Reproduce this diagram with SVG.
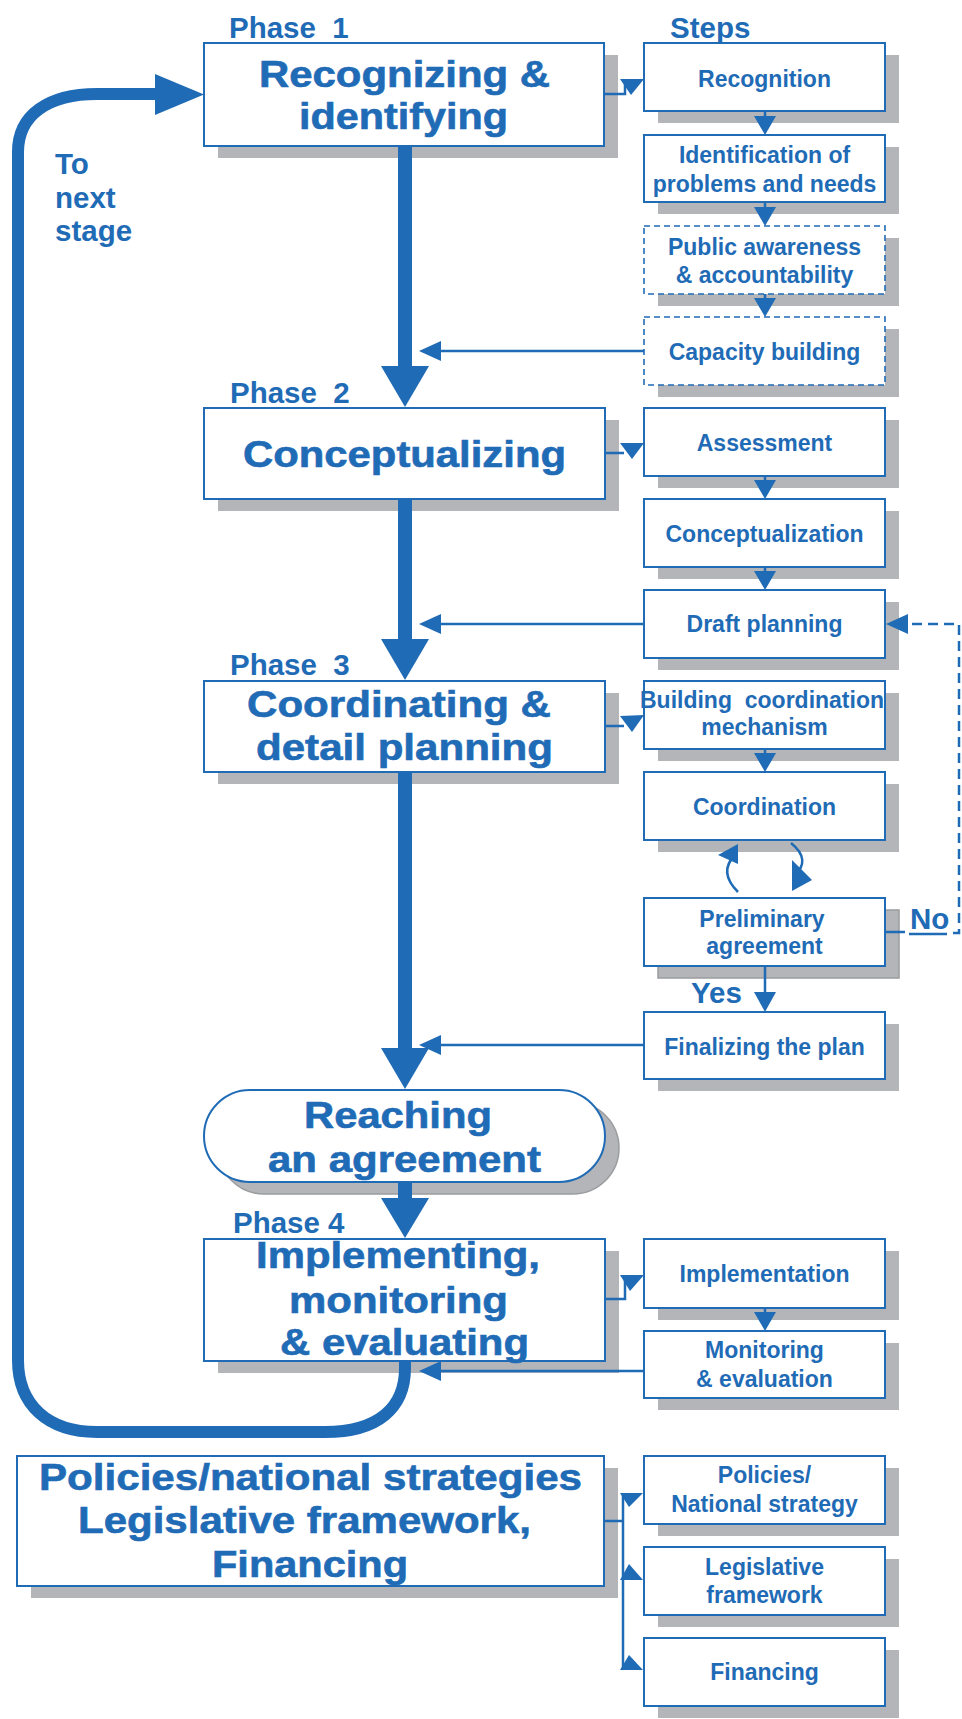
<svg xmlns="http://www.w3.org/2000/svg" width="962" height="1719" viewBox="0 0 962 1719">
<style>
.bx{fill:#fff;stroke:#1F6BB6;stroke-width:2}
.dbx{fill:#fff;stroke:#1F6BB6;stroke-width:1.6;stroke-dasharray:6 4}
.sh{fill:#B3B5B8}
.sh2{fill:#B3B5B8;stroke:#9A9C9F;stroke-width:1.5}
.t{font-family:"Liberation Sans",Arial,sans-serif;font-weight:bold;fill:#1F6BB6;text-anchor:middle}
.s{font-size:23px}
.big{font-size:36px;stroke:#1F6BB6;stroke-width:0.6}
.lab{font-family:"Liberation Sans",Arial,sans-serif;font-weight:bold;fill:#1F6BB6;font-size:29.5px}
.ln{stroke:#1F6BB6;fill:none;stroke-width:2.5}
.fat{stroke:#1F6BB6;fill:none;stroke-width:14}
.loop{stroke:#1F6BB6;fill:none;stroke-width:12}
.dash{stroke:#1F6BB6;fill:none;stroke-width:2.5;stroke-dasharray:10 6}
.ah{fill:#1F6BB6}
</style>
<rect width="962" height="1719" fill="#fff"/>

<g id="labels">
<text class="lab" x="229" y="38" xml:space="preserve">Phase  1</text>
<text class="lab" x="670" y="38" font-size="30">Steps</text>
<text class="lab" x="230" y="403" xml:space="preserve">Phase  2</text>
<text class="lab" x="230" y="675" xml:space="preserve">Phase  3</text>
<text class="lab" x="233" y="1233">Phase 4</text>
<text class="lab" x="55" y="174" font-size="31">To</text>
<text class="lab" x="55" y="208" font-size="31">next</text>
<text class="lab" x="55" y="241" font-size="31">stage</text>
<text class="lab" x="691" y="1003" font-size="22.5">Yes</text>
<text class="lab" x="910" y="929" font-size="22">No</text>
</g>

<g id="phase1">
<rect class="sh" x="218" y="55" width="400" height="103"/>
<rect class="bx" x="204" y="43" width="400" height="103"/>
<text class="t big" x="404.5" y="87" textLength="291" lengthAdjust="spacingAndGlyphs">Recognizing &amp;</text>
<text class="t big" x="403.5" y="129" textLength="209" lengthAdjust="spacingAndGlyphs">identifying</text>
</g>
<g id="phase2">
<rect class="sh" x="218" y="420" width="401" height="91"/>
<rect class="bx" x="204" y="408" width="401" height="91"/>
<text class="t big" x="404.5" y="467" textLength="323" lengthAdjust="spacingAndGlyphs">Conceptualizing</text>
</g>
<g id="phase3">
<rect class="sh" x="218" y="693" width="401" height="91"/>
<rect class="bx" x="204" y="681" width="401" height="91"/>
<text class="t big" x="399" y="717" textLength="304" lengthAdjust="spacingAndGlyphs">Coordinating &amp;</text>
<text class="t big" x="404.5" y="760" textLength="297" lengthAdjust="spacingAndGlyphs">detail planning</text>
</g>
<g id="agreement">
<rect class="sh2" x="218" y="1102" width="401" height="92" rx="46"/>
<rect class="bx" x="204" y="1090" width="401" height="92" rx="46"/>
<text class="t big" x="398" y="1128" textLength="188" lengthAdjust="spacingAndGlyphs">Reaching</text>
<text class="t big" x="404.5" y="1172" textLength="273" lengthAdjust="spacingAndGlyphs">an agreement</text>
</g>
<g id="phase4">
<rect class="sh" x="218" y="1251" width="401" height="122"/>
<rect class="bx" x="204" y="1239" width="401" height="122"/>
<text class="t big" x="398" y="1268" textLength="284" lengthAdjust="spacingAndGlyphs">Implementing,</text>
<text class="t big" x="398.5" y="1313" textLength="219" lengthAdjust="spacingAndGlyphs">monitoring</text>
<text class="t big" x="404.5" y="1355" textLength="249" lengthAdjust="spacingAndGlyphs">&amp; evaluating</text>
</g>
<g id="policies">
<rect class="sh" x="31" y="1468" width="587" height="130"/>
<rect class="bx" x="17" y="1456" width="587" height="130"/>
<text class="t big" x="310.5" y="1490" textLength="543" lengthAdjust="spacingAndGlyphs">Policies/national strategies</text>
<text class="t big" x="304.5" y="1533" textLength="453" lengthAdjust="spacingAndGlyphs">Legislative framework,</text>
<text class="t big" x="310" y="1577" textLength="196" lengthAdjust="spacingAndGlyphs">Financing</text>
</g>

<g id="recognition">
<rect class="sh" x="658" y="55" width="241" height="68"/>
<rect class="bx" x="644" y="43" width="241" height="68"/>
<text class="t s" x="764.5" y="87">Recognition</text>
</g>
<g id="identification">
<rect class="sh" x="658" y="147" width="241" height="67"/>
<rect class="bx" x="644" y="135" width="241" height="67"/>
<text class="t s" x="764.5" y="163">Identification of</text>
<text class="t s" x="764.5" y="192">problems and needs</text>
</g>
<g id="awareness">
<rect class="sh" x="658" y="238" width="241" height="68"/>
<rect class="dbx" x="644" y="226" width="241" height="68"/>
<text class="t s" x="764.5" y="255">Public awareness</text>
<text class="t s" x="764.5" y="283">&amp; accountability</text>
</g>
<g id="capacity">
<rect class="sh" x="658" y="329" width="241" height="68"/>
<rect class="dbx" x="644" y="317" width="241" height="68"/>
<text class="t s" x="764.5" y="360">Capacity building</text>
</g>
<g id="assessment">
<rect class="sh" x="658" y="420" width="241" height="68"/>
<rect class="bx" x="644" y="408" width="241" height="68"/>
<text class="t s" x="764.5" y="451">Assessment</text>
</g>
<g id="conceptualization">
<rect class="sh" x="658" y="511" width="241" height="68"/>
<rect class="bx" x="644" y="499" width="241" height="68"/>
<text class="t s" x="764.5" y="542">Conceptualization</text>
</g>
<g id="draft">
<rect class="sh" x="658" y="602" width="241" height="68"/>
<rect class="bx" x="644" y="590" width="241" height="68"/>
<text class="t s" x="764.5" y="632">Draft planning</text>
</g>
<g id="building">
<rect class="sh" x="658" y="693" width="241" height="68"/>
<rect class="bx" x="644" y="681" width="241" height="68"/>
<text class="t s" x="762" y="708" font-size="21.5" xml:space="preserve">Building  coordination</text>
<text class="t s" x="764.5" y="735">mechanism</text>
</g>
<g id="coordination">
<rect class="sh" x="658" y="784" width="241" height="68"/>
<rect class="bx" x="644" y="772" width="241" height="68"/>
<text class="t s" x="764.5" y="815">Coordination</text>
</g>
<g id="preliminary">
<rect class="sh2" x="658" y="910" width="241" height="68"/>
<rect class="bx" x="644" y="898" width="241" height="68" stroke-width="3"/>
<text class="t s" x="762" y="927">Preliminary</text>
<text class="t s" x="764.5" y="954">agreement</text>
</g>
<g id="finalizing">
<rect class="sh" x="658" y="1024" width="241" height="67"/>
<rect class="bx" x="644" y="1012" width="241" height="67"/>
<text class="t s" x="764.5" y="1055">Finalizing the plan</text>
</g>
<g id="implementation">
<rect class="sh" x="658" y="1251" width="241" height="69"/>
<rect class="bx" x="644" y="1239" width="241" height="69"/>
<text class="t s" x="764.5" y="1282">Implementation</text>
</g>
<g id="monitoring">
<rect class="sh" x="658" y="1343" width="241" height="67"/>
<rect class="bx" x="644" y="1331" width="241" height="67"/>
<text class="t s" x="764.5" y="1358">Monitoring</text>
<text class="t s" x="764.5" y="1387">&amp; evaluation</text>
</g>
<g id="policy-step">
<rect class="sh" x="658" y="1468" width="241" height="68"/>
<rect class="bx" x="644" y="1456" width="241" height="68"/>
<text class="t s" x="764.5" y="1483">Policies/</text>
<text class="t s" x="764.5" y="1512">National strategy</text>
</g>
<g id="legislative">
<rect class="sh" x="658" y="1559" width="241" height="68"/>
<rect class="bx" x="644" y="1547" width="241" height="68"/>
<text class="t s" x="764.5" y="1575">Legislative</text>
<text class="t s" x="764.5" y="1603">framework</text>
</g>
<g id="financing">
<rect class="sh" x="658" y="1650" width="241" height="68"/>
<rect class="bx" x="644" y="1638" width="241" height="68"/>
<text class="t s" x="764.5" y="1680">Financing</text>
</g>

<g id="connectors">
<path class="fat" d="M405,146 V368"/>
<polygon class="ah" points="381,366 429,366 405,407"/>
<path class="fat" d="M405,499 V641"/>
<polygon class="ah" points="381,639 429,639 405,680"/>
<path class="fat" d="M405,772 V1050"/>
<polygon class="ah" points="381,1048 429,1048 405,1089"/>
<path class="fat" d="M405,1182 V1200"/>
<polygon class="ah" points="381,1198 429,1198 405,1238"/>
<path class="loop" d="M405,1361 V1368 C405,1408 378,1432 325,1432 H97 C48,1432 18,1405 18,1360 V152 C18,115 48,94 97,94 H158"/>
<polygon class="ah" points="155,74 204,94.5 155,115"/>
<path class="ln" d="M644,351 H438"/>
<polygon class="ah" points="419,351 441,341 441,361"/>
<path class="ln" d="M644,624 H438"/>
<polygon class="ah" points="419,624 441,614 441,634"/>
<path class="ln" d="M644,1045 H438"/>
<polygon class="ah" points="419,1045 441,1035 441,1055"/>
<path class="ln" d="M644,1371 H438"/>
<polygon class="ah" points="419,1371 441,1361 441,1381"/>
<path class="ln" d="M604,94 H625 V82"/>
<polygon class="ah" points="620,79 644,79 631,95"/>
<path class="ln" d="M605,453 H624"/>
<polygon class="ah" points="620,443 644,443 632,459"/>
<path class="ln" d="M605,726 H624"/>
<polygon class="ah" points="620,716 644,715 632,732"/>
<path class="ln" d="M605,1299 H625 V1280"/>
<polygon class="ah" points="620,1275 644,1275 630,1291"/>
<path class="ln" d="M765,111 V118"/><polygon class="ah" points="754,116 776,116 765,135"/>
<path class="ln" d="M765,202 V209"/><polygon class="ah" points="754,207 776,207 765,226"/>
<path class="ln" d="M765,294 V300"/><polygon class="ah" points="754,298 776,298 765,317"/>
<path class="ln" d="M765,476 V482"/><polygon class="ah" points="754,480 776,480 765,499"/>
<path class="ln" d="M765,567 V573"/><polygon class="ah" points="754,571 776,571 765,590"/>
<path class="ln" d="M765,749 V755"/><polygon class="ah" points="754,753 776,753 765,772"/>
<path class="ln" d="M765,966 V995"/><polygon class="ah" points="754,992 776,992 765,1012"/>
<path class="ln" d="M765,1308 V1314"/><polygon class="ah" points="754,1312 776,1312 765,1331"/>
<path class="ln" d="M738,892 Q718,872 735,855"/>
<polygon class="ah" points="718,855 738,844 738,864"/>
<path class="ln" d="M791,843 Q812,860 794,876"/>
<polygon class="ah" points="792,860 812,880 792,891"/>
<path class="ln" d="M885,932 H905"/>
<path class="ln" d="M909,934 H947" stroke-width="2"/>
<path class="dash" d="M953,933 H959 V624 H905"/>
<polygon class="ah" points="886,624 908,614 908,634"/>
<path class="ln" d="M604,1521 H623"/>
<path class="ln" d="M623,1493 V1670" stroke-width="3"/>
<polygon class="ah" points="620,1493 643,1493 629,1507"/>
<polygon class="ah" points="620,1580 643,1580 629,1564"/>
<polygon class="ah" points="620,1670 643,1670 629,1655"/>
</g>
</svg>
